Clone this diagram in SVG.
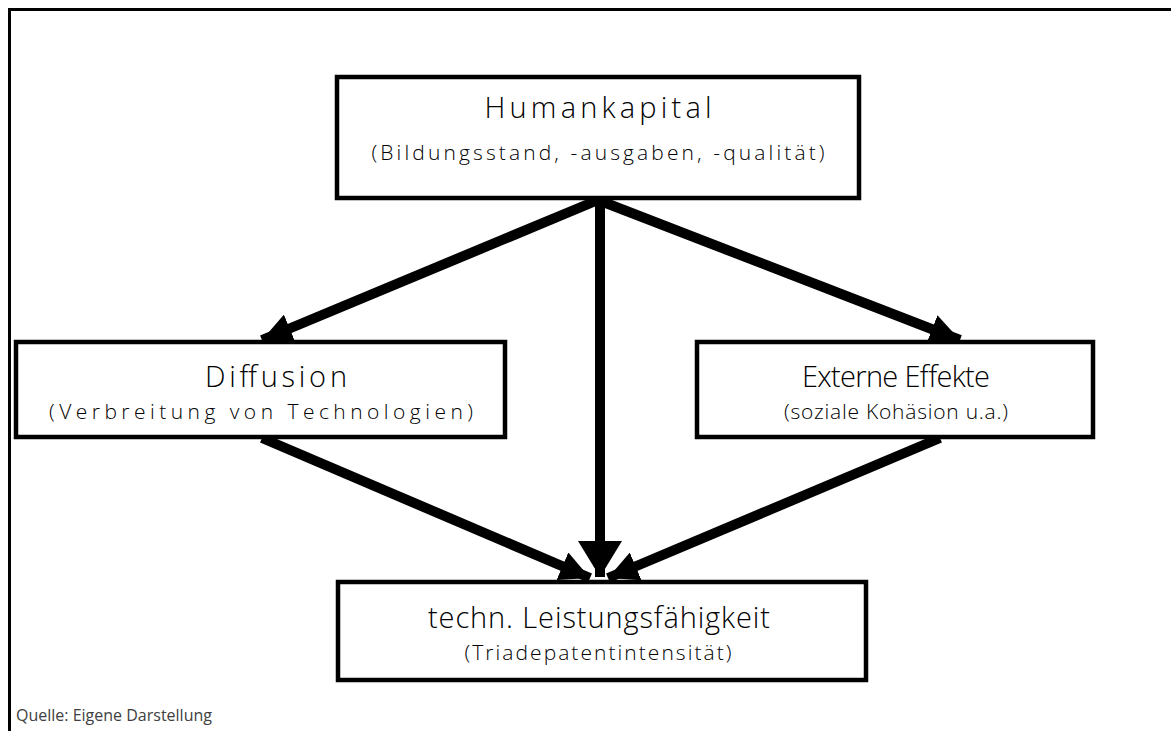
<svg xmlns="http://www.w3.org/2000/svg" width="1171" height="731" viewBox="0 0 1171 731">
<style>
.box{fill:#fff;stroke:#000;stroke-width:4.5}
.t1{font-family:"Open Sans","Liberation Sans",sans-serif;font-size:29px;font-weight:300;text-anchor:middle;fill:#000}
.t2{font-family:"Open Sans","Liberation Sans",sans-serif;font-size:21px;font-weight:300;text-anchor:middle;fill:#000}
.ln{stroke:#000;stroke-width:10;fill:none}
.src{font-family:"Open Sans","Liberation Sans",sans-serif;font-size:16px;fill:#404040}
</style>
<defs>
<marker id="ah" markerUnits="userSpaceOnUse" markerWidth="40" markerHeight="30" refX="30" refY="15" orient="auto" viewBox="0 0 40 30">
<path d="M0,0 L30,15 L0,30 Z" fill="#000"/>
</marker>
<marker id="ahb" markerUnits="userSpaceOnUse" markerWidth="40" markerHeight="44" refX="36" refY="22" orient="auto" viewBox="0 0 40 44">
<path d="M0,0 L36,22 L0,44 Z" fill="#000"/>
</marker>
</defs>
<g id="frame"><path d="M9.5,731 V9.5 H1171" fill="none" stroke="#000" stroke-width="3"/></g>
<g id="connectors">
<line class="ln" x1="598" y1="200" x2="262" y2="340" marker-end="url(#ah)"/>
<line class="ln" x1="598" y1="200" x2="960" y2="340" marker-end="url(#ah)"/>
<line class="ln" x1="600" y1="200" x2="600" y2="577" marker-end="url(#ahb)" stroke-width="11"/>
<line class="ln" x1="262" y1="438" x2="590" y2="578" marker-end="url(#ah)"/>
<line class="ln" x1="940" y1="438" x2="608" y2="578" marker-end="url(#ah)"/>
</g>
<g id="humankapital">
<rect class="box" x="337" y="77" width="522" height="121"/>
<text class="t1" x="598" y="118" textLength="227" lengthAdjust="spacing">Humankapital</text>
<text class="t2" x="598" y="160" textLength="453" lengthAdjust="spacing">(Bildungsstand, -ausgaben, -qualität)</text>
</g>
<g id="diffusion">
<rect class="box" x="16" y="342" width="489" height="95"/>
<text class="t1" x="276" y="387" textLength="142" lengthAdjust="spacing">Diffusion</text>
<text class="t2" x="261" y="419" textLength="424" lengthAdjust="spacing">(Verbreitung von Technologien)</text>
</g>
<g id="externe">
<rect class="box" x="697" y="342" width="396" height="95"/>
<text class="t1" x="896" y="387" textLength="188" lengthAdjust="spacing">Externe Effekte</text>
<text class="t2" x="896" y="419" textLength="224" lengthAdjust="spacing">(soziale Kohäsion u.a.)</text>
</g>
<g id="techn">
<rect class="box" x="338" y="582" width="528" height="98"/>
<text class="t1" x="599" y="628" textLength="342" lengthAdjust="spacing">techn. Leistungsfähigkeit</text>
<text class="t2" x="598" y="660" textLength="267" lengthAdjust="spacing">(Triadepatentintensität)</text>
</g>
<g id="source"><text class="src" x="16" y="721">Quelle: Eigene Darstellung</text></g>
</svg>
